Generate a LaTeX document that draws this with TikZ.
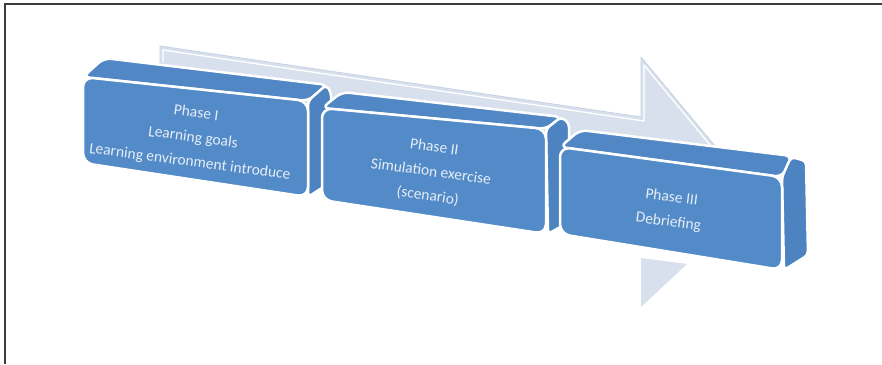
\documentclass[tikz,border=0pt]{standalone}
\usepackage{fontspec}
\setmainfont{Carlito}
\definecolor{frontblue}{RGB}{82,139,200}
\definecolor{topblue}{RGB}{80,135,196}
\definecolor{sideblue}{RGB}{77,131,192}
\definecolor{arrowfill}{RGB}{216,224,237}
\definecolor{arrowedge}{RGB}{198,210,228}
\definecolor{txtcol}{RGB}{230,237,246}
\definecolor{framecol}{RGB}{60,60,60}
\begin{document}
\begin{tikzpicture}[x=1pt,y=-1pt,
  face/.style={draw=white,line width=2.5pt,line join=round,rounded corners=#1},
  face/.default=7pt,
  lbl/.style={text=txtcol,align=center,font=\fontsize{15.5}{24.5}\selectfont,inner sep=0pt}]
\useasboundingbox (0,0) rectangle (882,364);
\fill[white] (0,0) rectangle (882,364);
\draw[framecol,line width=1.5pt] (5,364) -- (5,4) -- (882,4);
% background arrow
\filldraw[fill=arrowfill,draw=arrowedge,line width=0.8pt,line join=round]
  (160,46) -- (641,117) -- (641,57) -- (755,194) -- (700,240) -- (641,230) -- (160,160) -- cycle;
\draw[white,line width=1.3pt,line join=round] (163,62) -- (163,50) -- (644,121) -- (644,65) -- (720,157);
\fill[arrowfill] (641,258) -- (687,264) -- (641,307) -- cycle;
% box I
\path[face,fill=topblue] (83,77) -- (104,58) -- (328,85) -- (308,101) -- cycle;
\path[face=4pt,fill=sideblue] (308,101) -- (326,85) -- (331,92) -- (331,182) -- (308,197) -- cycle;
\path[face=10pt,fill=frontblue] (83,77) -- (308,101) -- (308,197) -- (83,163) -- cycle;
\node[lbl,rotate=-7.5] (t1) at (193,138) {Phase I\\Learning goals\\Learning environment introduce};
% box II
\path[face,fill=topblue] (322,108) -- (342,92) -- (562,117) -- (546,129) -- cycle;
\path[face=4pt,fill=sideblue] (546,129) -- (561,117) -- (569,123) -- (569,222) -- (548,234) -- cycle;
\path[face=10pt,fill=frontblue] (322,108) -- (546,129) -- (546,234) -- (322,200) -- cycle;
\node[lbl,rotate=-7.8] (t2) at (431,172) {Phase II\\Simulation exercise\\(scenario)};
% box III
\path[face,fill=topblue] (560,147) -- (580,130) -- (792,156) -- (782,177) -- cycle;
\path[face=4pt,fill=sideblue] (782,177) -- (791,157) -- (806,161) -- (808,255) -- (784,270) -- cycle;
\path[face=10pt,fill=frontblue] (560,147) -- (782,177) -- (782,270) -- (560,234) -- cycle;
\node[lbl,rotate=-7.5] (t3) at (670,210) {Phase III\\Debriefing};
\end{tikzpicture}
\end{document}
